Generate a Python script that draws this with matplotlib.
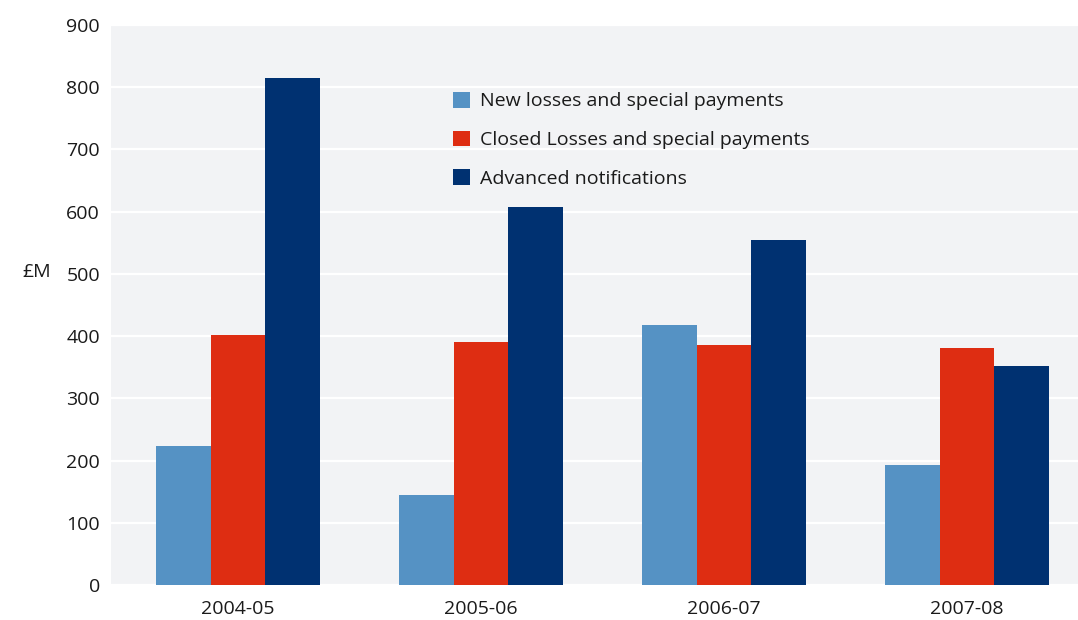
import matplotlib
matplotlib.use("Agg")
import matplotlib.pyplot as plt
import numpy as np
from matplotlib.patches import Patch

# Data (£M)
years = ["2004-05", "2005-06", "2006-07", "2007-08"]
new_losses = [223, 145, 418, 193]
closed_losses = [401, 391, 386, 381]
advanced_notifications = [815, 608, 555, 352]
series_names = ["New losses and special payments",
                "Closed Losses and special payments",
                "Advanced notifications"]
y_ticks = [0, 100, 200, 300, 400, 500, 600, 700, 800, 900]

colors = ["#5592c4", "#de2d12", "#003171"]

plt.rcParams['font.family'] = ['Open Sans', 'DejaVu Sans']

fig = plt.figure(figsize=(10.78, 6.2), dpi=100)
ax = fig.add_axes([111 / 1078, 1 - 585 / 620, 1 - 111 / 1078, 560 / 620])
ax.set_facecolor("#f2f3f5")

x = np.arange(len(years))
w = 0.225
for i, (vals, c) in enumerate(zip([new_losses, closed_losses, advanced_notifications], colors)):
    ax.bar(x + (i - 1) * w, vals, width=w, color=c, zorder=3, linewidth=0)

ax.set_xlim(-0.523, 3.457)
ax.set_ylim(0, 900)
ax.set_yticks(y_ticks)
ax.set_xticks(x)
ax.set_xticklabels(years)
ax.yaxis.grid(True, color="white", linewidth=1.6, zorder=1)
ax.set_axisbelow(True)
for s in ax.spines.values():
    s.set_visible(False)
ax.tick_params(axis="both", length=0, labelsize=14, colors="#1a1a1a")
ax.tick_params(axis="y", pad=8)
ax.tick_params(axis="x", pad=11)

fig.text(22 / 1078, 1 - 272 / 620, "£M", fontsize=14, color="#1a1a1a",
         ha="left", va="center")

handles = [Patch(facecolor=c, edgecolor="none") for c in colors]
leg = ax.legend(handles, series_names, loc="upper left",
                bbox_to_anchor=((453 - 111) / 967, (585 - 92) / 560),
                frameon=False, fontsize=14, handlelength=0.85, handleheight=0.85,
                handletextpad=0.55, labelspacing=1.03, borderaxespad=0, borderpad=0)
for t in leg.get_texts():
    t.set_color("#1a1a1a")

fig.savefig("out.png", dpi=100)
